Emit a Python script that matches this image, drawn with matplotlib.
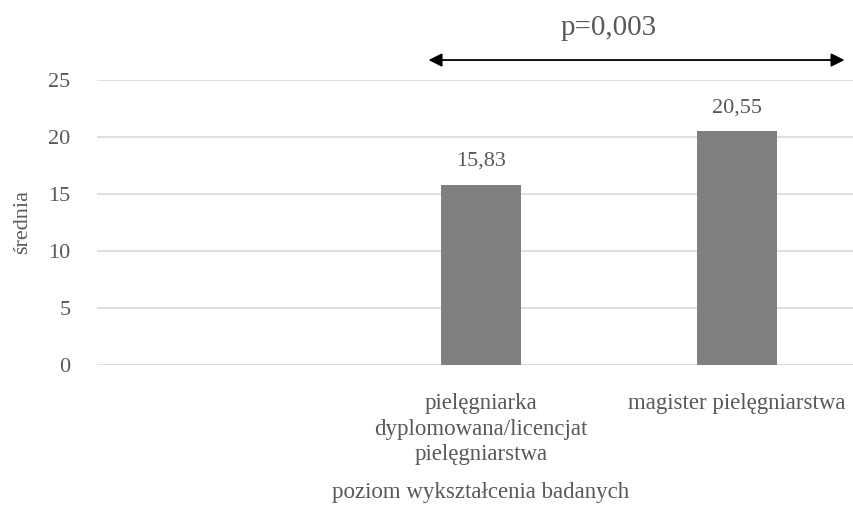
import matplotlib.pyplot as plt

kategorie = ["", "pielęgniarka\ndyplomowana/licencjat\npielęgniarstwa", "magister pielęgniarstwa"]
srednie = [None, 15.83, 20.55]
etykiety = ["", "15,83", "20,55"]
y_ticks = [0, 5, 10, 15, 20, 25]
p_tekst = "p=0,003"

szary = "#595959"
plt.rcParams["font.family"] = ["Liberation Serif", "DejaVu Serif"]

fig = plt.figure(figsize=(8.54, 5.13), dpi=100)
ax = fig.add_axes([97 / 854, 1 - 365 / 513, 768 / 854, 285 / 513])

pozycje = list(range(len(kategorie)))
for x, v, lab in zip(pozycje, srednie, etykiety):
    if v is None:
        continue
    ax.bar(x, v, width=0.315, color="#7f7f7f", zorder=3)
    ax.text(x, v + 1.2, lab, ha="center", va="bottom", fontsize=16, color=szary)

ax.set_xlim(-0.5, len(kategorie) - 0.5)
ax.set_ylim(0, 25)
ax.set_yticks(y_ticks)
ax.set_yticklabels([str(t) for t in y_ticks])
ax.set_xticks(pozycje)
ax.tick_params(axis="both", length=0, labelsize=16, labelcolor=szary)
ax.set_xticklabels(kategorie, linespacing=1.3, fontsize=16.5)
ax.tick_params(axis="y", pad=19)
ax.tick_params(axis="x", pad=20)
ax.grid(axis="y", color="#d9d9d9", linewidth=1.2, zorder=0)
for s in ax.spines.values():
    s.set_visible(False)

ax.set_ylabel("średnia", fontsize=16, color=szary, labelpad=12)
ax.set_xlabel("poziom wykształcenia badanych", fontsize=16.5, color=szary, labelpad=12)

# strzałka z wartością p nad słupkami
ax.annotate("", xy=(0.795, 26.75), xytext=(2.42, 26.75),
            arrowprops=dict(arrowstyle="<|-|>", color="black", lw=1.3,
                            mutation_scale=20, shrinkA=0, shrinkB=0),
            annotation_clip=False)
ax.text(1.50, 29.6, p_tekst, ha="center", va="center", fontsize=21, color=szary)

fig.savefig("out.png", dpi=100)
